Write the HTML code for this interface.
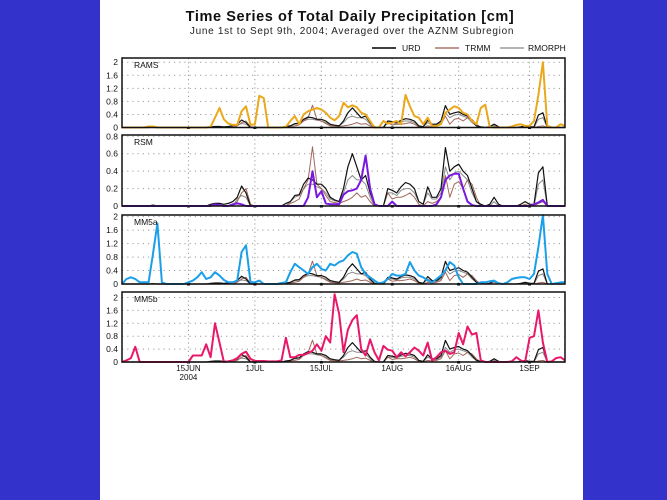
<!DOCTYPE html>
<html><head><meta charset="utf-8"><style>
html,body{margin:0;padding:0;background:#3333cc;}
svg{display:block;}
text{font-family:"Liberation Sans",sans-serif;}
</style></head><body>
<svg id="chart" width="667" height="500" viewBox="0 0 667 500">
<rect x="0" y="0" width="667" height="500" fill="#3333cc"/>
<rect x="100" y="0" width="483" height="500" fill="#ffffff"/>
<text x="350" y="21" text-anchor="middle" font-size="14.5" font-weight="bold" fill="#111" letter-spacing="0.6">Time Series of Total Daily Precipitation [cm]</text>
<text x="352" y="34" text-anchor="middle" font-size="10" fill="#222" letter-spacing="0.7">June 1st to Sept 9th, 2004; Averaged over the AZNM Subregion</text>
<g>
<g><line x1="372" y1="48" x2="396" y2="48" stroke="#000" stroke-width="1.5"/><text x="402" y="51" font-size="8.5" fill="#111">URD</text></g>
<g><line x1="435" y1="48" x2="459" y2="48" stroke="#9a5a4a" stroke-width="1.2"/><text x="465" y="51" font-size="8.5" fill="#111">TRMM</text></g>
<g><line x1="500" y1="48" x2="524" y2="48" stroke="#888" stroke-width="1.2"/><text x="528" y="51" font-size="8.5" fill="#111">RMORPH</text></g>
</g>
<g id="panels"></g>
</svg>
<script>
const dateTickDays = [15, 30, 45, 61, 76, 92];
const dateTickLabels = ["15JUN", "1JUL", "15JUL", "1AUG", "16AUG", "1SEP"];
const URD = [0,0,0,0,0,0,0,0.01,0,0,0,0,0,0,0,0,0,0,0,0,0.02,0.03,0.03,0.02,0.03,0.05,0.1,0.23,0.15,0,0,0,0,0,0,0,0,0.03,0.05,0.12,0.13,0.25,0.32,0.3,0.25,0.25,0.2,0.1,0.07,0.05,0.2,0.45,0.6,0.45,0.3,0.35,0.15,0.02,0,0,0.2,0.18,0.15,0.22,0.27,0.25,0.2,0.05,0.02,0.22,0.1,0.1,0.2,0.67,0.4,0.45,0.48,0.4,0.35,0.2,0.05,0.02,0,0.02,0.1,0.02,0,0,0,0,0.02,0.05,0.02,0.02,0.38,0.45,0,0,0,0,0];
const TRMM = [0,0,0,0,0,0,0,0,0,0,0,0,0,0,0,0,0,0,0,0,0,0,0,0,0,0,0.05,0.15,0.2,0.02,0,0,0,0,0,0,0,0,0.03,0.05,0.08,0.2,0.3,0.68,0.25,0.2,0.12,0.05,0.04,0.03,0.05,0.07,0.1,0.15,0.1,0.12,0.05,0,0,0,0.15,0.08,0.1,0.1,0.12,0.15,0.1,0.02,0,0.05,0.03,0.05,0.1,0.35,0.1,0.25,0.28,0.2,0.3,0.25,0.1,0,0,0,0,0,0,0,0,0,0,0.02,0,0,0.03,0.05,0,0,0,0,0];
const RMORPH = [0,0,0,0,0,0,0,0,0,0,0,0,0,0,0,0,0,0,0,0,0,0,0,0,0,0,0.08,0.12,0.1,0,0,0,0,0,0,0,0,0,0.05,0.1,0.12,0.2,0.25,0.25,0.22,0.2,0.15,0.08,0.06,0.05,0.15,0.3,0.35,0.3,0.3,0.25,0.1,0,0,0,0.15,0.15,0.12,0.18,0.2,0.2,0.15,0.05,0.02,0.15,0.08,0.08,0.15,0.45,0.3,0.38,0.4,0.35,0.3,0.15,0.05,0,0,0,0.05,0,0,0,0,0,0,0,0,0,0.25,0.3,0,0,0,0,0];
const RAMS = [0,0,0,0,0,0,0.03,0.03,0,0,0,0,0,0,0,0,0,0,0,0,0.02,0.3,0.6,0.25,0.12,0.08,0.08,0.5,0.65,0.08,0.1,0.97,0.9,0,0,0,0,0.02,0.2,0.35,0.1,0.4,0.5,0.55,0.6,0.55,0.45,0.3,0.22,0.35,0.76,0.62,0.68,0.62,0.45,0.4,0.2,0,0,0.2,0.12,0.15,0.2,0.1,1.0,0.65,0.35,0.3,0.1,0.3,0.05,0.05,0.1,0.45,0.55,0.65,0.6,0.45,0.4,0.2,0.1,0.6,0.7,0.02,0,0,0,0,0.03,0.08,0.1,0.05,0.05,0.2,1.0,2.0,0.05,0,0,0.1,0.05];
const RSM = [0,0,0,0,0,0,0,0,0,0,0,0,0,0,0,0,0,0,0,0,0,0.02,0.01,0,0,0.02,0.03,0.02,0,0,0,0,0,0,0,0,0,0,0,0,0,0,0.1,0.4,0.1,0.17,0.03,0.02,0.02,0.02,0.13,0.17,0.18,0.2,0.3,0.58,0.2,0.02,0,0,0,0.05,0,0,0,0,0,0,0,0,0,0.02,0.1,0.3,0.35,0.37,0.37,0.2,0.05,0.01,0,0,0,0,0,0,0,0,0,0,0,0,0,0.02,0.04,0.07,0,0,0,0,0];
const MM5a = [0,0.15,0.2,0.15,0.05,0.05,0.05,0.9,1.8,0.05,0,0,0,0,0,0.05,0.1,0.2,0.35,0.15,0.2,0.35,0.25,0.12,0.05,0.05,0.1,0.95,1.15,0.05,0.05,0.1,0,0,0,0,0.03,0.05,0.35,0.6,0.5,0.4,0.3,0.5,0.6,0.45,0.4,0.6,0.55,0.65,0.7,0.85,0.95,0.9,0.5,0.3,0.2,0.1,0.02,0.05,0.15,0.3,0.25,0.25,0.3,0.65,0.4,0.25,0.2,0.1,0.05,0.15,0.25,0.4,0.65,0.55,0.2,0,0,0,0,0.05,0.05,0.08,0.1,0.02,0,0.05,0.15,0.18,0.2,0.2,0.15,0.3,1.1,2.1,0.3,0,0.02,0.05,0.05];
const MM5b = [0,0.05,0.12,0.47,0,0,0,0,0,0,0,0,0,0,0,0,0.2,0.2,0.2,0.55,0.15,1.2,0.6,0,0.02,0.05,0.12,0.25,0.32,0.1,0.03,0.03,0.03,0.02,0.02,0.02,0.05,0.75,0.15,0.15,0.22,0.22,0.28,0.35,0.55,0.35,0.8,0.6,2.1,1.5,0.3,1.0,1.3,1.45,0.4,0.2,0.7,0.3,0.05,0.5,0.38,0.35,0.15,0.3,0.18,0.3,0.45,0.35,0.2,0.6,0.05,0.15,0.3,0.35,0.25,0.3,0.9,0.55,1.1,0.85,0.9,0.05,0,0,0,0,0,0,0.02,0.15,0.05,0,0.75,0.8,1.6,0.6,0,0.02,0.12,0.15,0.05];
const panelNames = ["RAMS", "RSM", "MM5a", "MM5b"];
const panelSeries = [RAMS, RSM, MM5a, MM5b];
const panelColors = ["#eaa91c", "#7a18e0", "#1a9fe8", "#e8186a"];
const panelTicks = [[0,0.4,0.8,1.2,1.6,2], [0,0.2,0.4,0.6,0.8], [0,0.4,0.8,1.2,1.6,2], [0,0.4,0.8,1.2,1.6,2]];
const panelTickLabels = [["0","0.4","0.8","1.2","1.6","2"], ["0","0.2","0.4","0.6","0.8"], ["0","0.4","0.8","1.2","1.6","2"], ["0","0.4","0.8","1.2","1.6","2"]];
const panelMax = [2.13, 0.815, 2.05, 2.17];

const NS = "http://www.w3.org/2000/svg";
const X0 = 122, X1 = 565, NDAYS = 100;
const panelTop = [58, 135, 215, 292];
const panelBottom = [127.5, 206, 284, 362];
function xScale(d){ return X0 + (X1 - X0) * d / NDAYS; }
function mk(tag, attrs, parent){ const e = document.createElementNS(NS, tag); for (const k in attrs) e.setAttribute(k, attrs[k]); parent.appendChild(e); return e; }
const root = document.getElementById("panels");

for (let p = 0; p < 4; p++) {
  const top = panelTop[p], bot = panelBottom[p], mx = panelMax[p];
  const y = v => bot - (bot - top) * v / mx;
  const g = mk("g", {}, root);
  
  
  // horizontal grid + y ticks
  panelTicks[p].forEach((t, i) => {
    if (t > 0) {
      const gl = mk("line", {x1: X0, x2: X1, y1: y(t), y2: y(t), stroke: "#999", "stroke-width": 1, "stroke-dasharray": "1.2,4"}, g);
      
      
    }
    const tl = mk("text", {x: 118, y: y(t) + 3, "text-anchor": "end", "font-size": 8.5, fill: "#111"}, g);
    tl.textContent = panelTickLabels[p][i];
    
    
  });
  // vertical grid
  dateTickDays.forEach(d => {
    const vl = mk("line", {x1: xScale(d), x2: xScale(d), y1: top, y2: bot, stroke: "#999", "stroke-width": 1, "stroke-dasharray": "1.2,3"}, g);
    
    
    const tk = mk("rect", {x: xScale(d) - 1.5, y: bot - 1, width: 3, height: 2.5, fill: "#111"}, g);
    
    
  });
  // observation series
  const obs = [[RMORPH, "#8a8a8a", 1, 'series-rmorph'], [TRMM, "#a0685a", 1, 'series-trmm'], [URD, "#111", 1.2, 'series-urd']];
  obs.forEach(o => {
    const pts = o[0].map((v, i) => xScale(i).toFixed(1) + "," + y(Math.min(v, mx)).toFixed(1)).join(" ");
    const pl = mk("polyline", {points: pts, fill: "none", stroke: o[1], "stroke-width": o[2], "stroke-linejoin": "round"}, g);
    
    
  });
  const ms = panelSeries[p];
  const pts = ms.map((v, i) => xScale(i).toFixed(1) + "," + y(Math.min(v, mx)).toFixed(1)).join(" ");
  const ml = mk("polyline", {points: pts, fill: "none", stroke: panelColors[p], "stroke-width": 2, "stroke-linejoin": "round"}, g);
  
  
  const fr = mk("rect", {x: X0, y: top, width: X1 - X0, height: bot - top, fill: "none", stroke: "#111", "stroke-width": 1.5}, g);
  
  
  const nm = mk("text", {x: 134, y: top + 10, "font-size": 8.5, fill: "#111"}, g);
  nm.textContent = panelNames[p];
  
  
}
// x labels
dateTickDays.forEach((d, i) => {
  const t = mk("text", {x: xScale(d), y: 371, "text-anchor": "middle", "font-size": 8, fill: "#111"}, root);
  t.textContent = dateTickLabels[i];
  
  
});
const yr = mk("text", {x: xScale(dateTickDays[0]), y: 380, "text-anchor": "middle", "font-size": 8, fill: "#111"}, root);
yr.textContent = "2004";


</script>
</body></html>
